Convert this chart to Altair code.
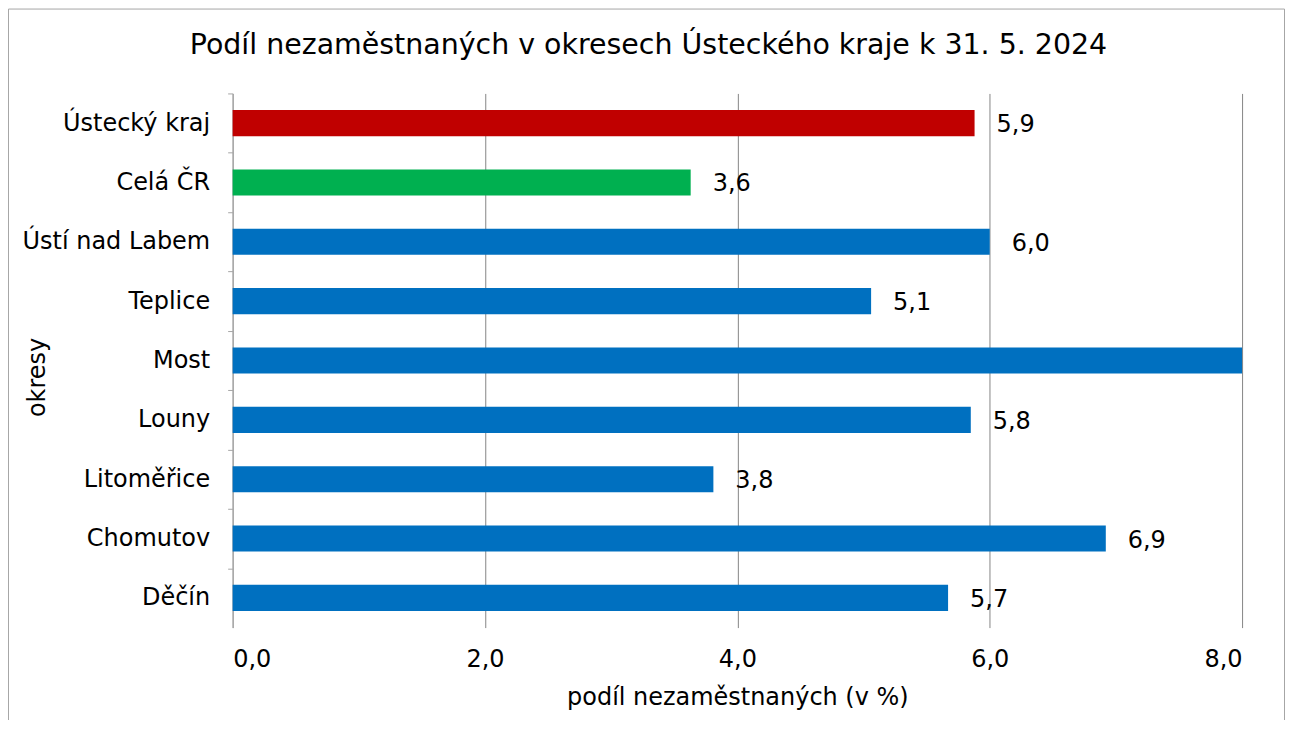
import altair as alt
import pandas as pd

districts = ["Ústecký kraj", "Celá ČR", "Ústí nad Labem", "Teplice", "Most",
             "Louny", "Litoměřice", "Chomutov", "Děčín"]
values = [5.88, 3.63, 6.0, 5.06, 8.0, 5.85, 3.81, 6.92, 5.67]
labels = ["5,9", "3,6", "6,0", "5,1", "8,0", "5,8", "3,8", "6,9", "5,7"]
groups = ["kraj", "ČR", "okres", "okres", "okres", "okres", "okres", "okres", "okres"]
title_text = "Podíl nezaměstnaných v okresech Ústeckého kraje k 31. 5. 2024"

df = pd.DataFrame({"okres": districts, "value": values, "label": labels, "group": groups})

FONT = "DejaVu Sans"
FS = 24
W, H = 1011, 535
STEP = H / 9

y_enc = alt.Y("okres:N", sort=districts, title="okresy",
              scale=alt.Scale(paddingInner=0.56, paddingOuter=0.28),
              axis=alt.Axis(labelFontSize=FS, labelColor="#000000", labelFont=FONT,
                            labelPadding=18, labelLimit=400, tickSize=5, tickColor="#a6a6a6",
                            tickOffset=-STEP / 2, labelOffset=STEP / 2,
                            domainColor="#a6a6a6",
                            titleFontSize=FS, titleFont=FONT, titleFontWeight="normal",
                            titleColor="#000000", titleX=-188, titleY=284,
                            titleBaseline="alphabetic", titleAngle=270, grid=False))

x_scale = alt.Scale(domain=[0, 8], clamp=True, nice=False)

bars = alt.Chart(df).mark_bar().encode(
    x=alt.X("value:Q", scale=x_scale, title="podíl nezaměstnaných (v %)",
            axis=alt.Axis(values=[0, 2, 4, 6, 8],
                          labelExpr="replace(format(datum.value, '.1f'), '.', ',')",
                          labelFontSize=FS, labelFont=FONT, labelColor="#000000",
                          labelPadding=20, ticks=False, domain=False,
                          grid=True, gridColor="#868686", gridWidth=1,
                          titleFontSize=FS, titleFont=FONT, titleFontWeight="normal",
                          titleColor="#000000", titlePadding=14)),
    y=y_enc,
    color=alt.Color("group:N",
                    scale=alt.Scale(domain=["kraj", "ČR", "okres"],
                                    range=["#C00000", "#00B050", "#0070C0"]),
                    legend=None),
)

text = alt.Chart(df).transform_filter("datum.value < 8").mark_text(
    align="left", baseline="middle", dx=22, dy=2, fontSize=FS, font=FONT, color="#000000"
).encode(
    x=alt.X("value:Q", scale=x_scale),
    y=alt.Y("okres:N", sort=districts),
    text="label:N",
)

one = df[df["okres"] == "Most"]

FL, FR, FT, FB = -224.5, 1053.5, -84.5, H + 120

frame_left = alt.Chart(one).mark_rule(stroke="#a6a6a6", strokeWidth=1).encode(
    x=alt.value(FL), y=alt.value(FT), y2=alt.value(FB)
)
frame_right = alt.Chart(one).mark_rule(stroke="#a6a6a6", strokeWidth=1).encode(
    x=alt.value(FR), y=alt.value(FT), y2=alt.value(FB)
)
frame_top = alt.Chart(one).mark_rule(stroke="#a6a6a6", strokeWidth=1).encode(
    x=alt.value(FL), x2=alt.value(FR), y=alt.value(FT)
)

title = alt.Chart(one).mark_text(
    align="center", baseline="middle", fontSize=28.5, font=FONT, color="#000000"
).encode(
    x=alt.value(W / 2 - 89), y=alt.value(-48), text=alt.value(title_text)
)

chart = alt.layer(bars, text, title, frame_left, frame_right, frame_top).properties(
    width=W, height=H,
    padding={"left": 225, "top": 85, "right": 45, "bottom": 92},
    autosize=alt.AutoSizeParams(type="none"),
).configure_view(stroke=None)

chart.save("out.html", embed_options={"renderer": "svg", "actions": False})
